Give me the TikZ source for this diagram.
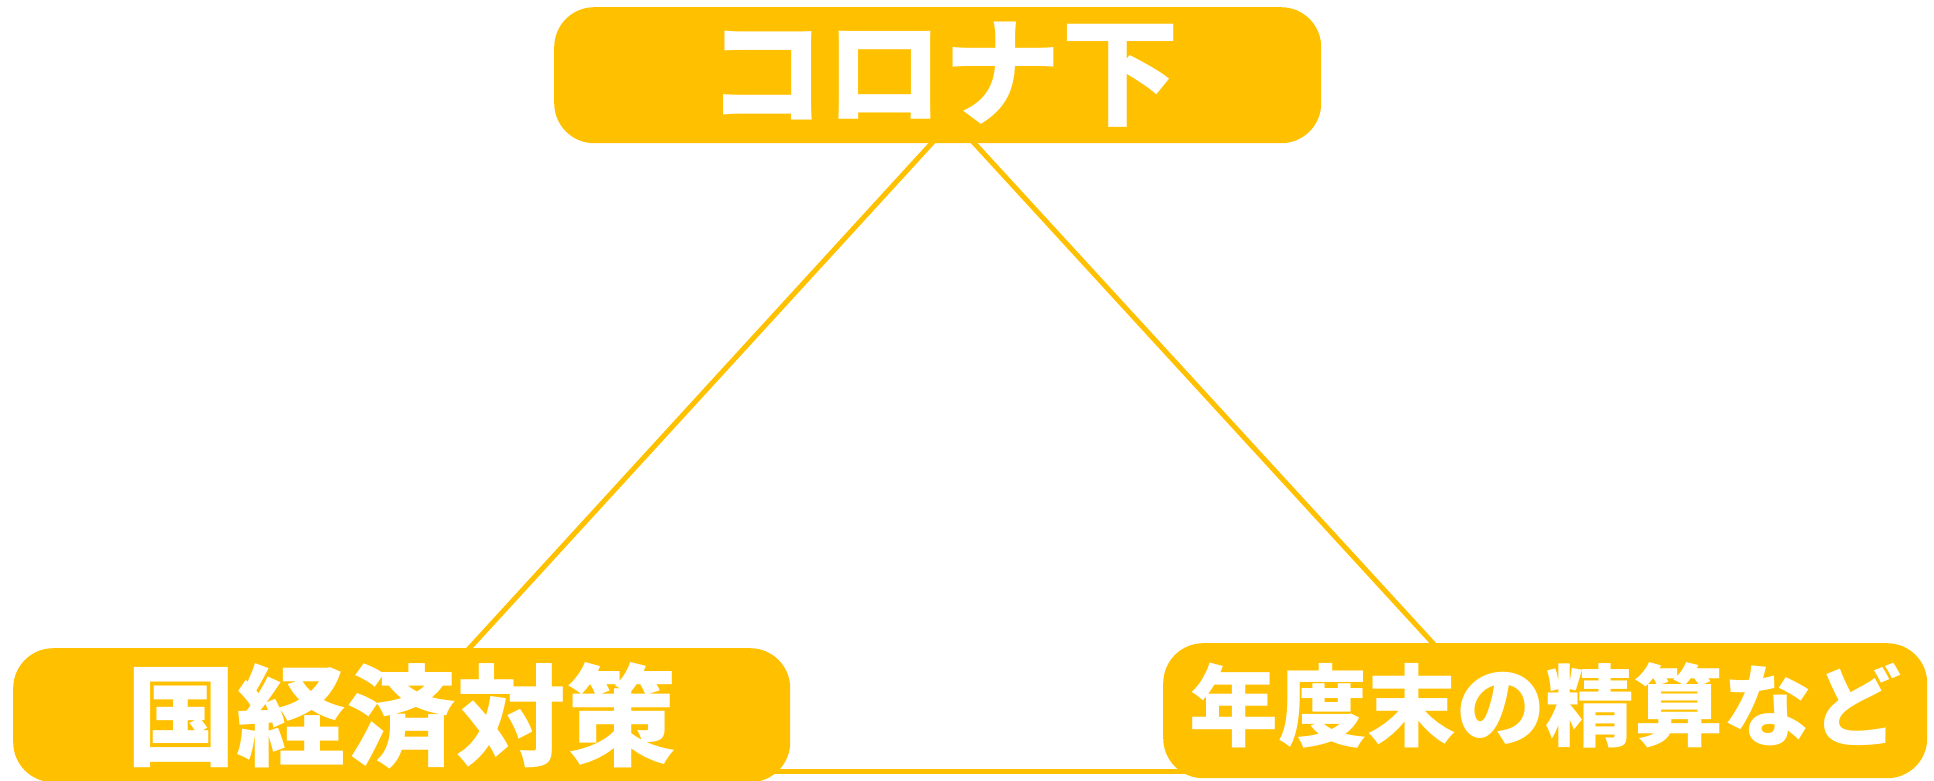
\documentclass[tikz,border=0pt]{standalone}
\usepackage{fontspec}
\newfontfamily\jp{Noto Sans CJK JP}
\definecolor{orng}{RGB}{255,192,0}
\begin{document}
\begin{tikzpicture}[x=1pt,y=-1pt,
  box/.style={fill=orng, draw=none, rounded corners=40pt, inner sep=0pt, anchor=north west},
  lbl/.style={text=white, inner sep=0pt, anchor=base},
  conn/.style={draw=orng, line width=5pt}]
\useasboundingbox (0,0) rectangle (1934,781);
% connectors (behind boxes)
\coordinate (apex) at (953,120);
\coordinate (lend) at (422,700);
\coordinate (rend) at (1485,700);
\coordinate (hl) at (400,771);
\coordinate (hr) at (1545,771);
\draw[conn] (apex) -- (lend);
\draw[conn] (apex) -- (rend);
\draw[conn] (hl) -- (hr);
% boxes
\node[box, minimum width=767pt, minimum height=136pt] (topbox) at (554,7) {};
\node[box, minimum width=777pt, minimum height=134pt] (blbox) at (13,648) {};
\node[box, minimum width=764pt, minimum height=135pt] (brbox) at (1163,643) {};
% labels
\node[lbl, font=\jp\bfseries\fontsize{118pt}{120pt}\selectfont] (toptext) at (943,117) {コロナ下};
\node[lbl, font=\jp\bfseries\fontsize{110pt}{112pt}\selectfont] (bltext) at (401,757) {国経済対策};
\node[lbl, font=\jp\bfseries\fontsize{89pt}{91pt}\selectfont] (brtext) at (1545,739) {年度末の精算など};
\end{tikzpicture}
\end{document}
